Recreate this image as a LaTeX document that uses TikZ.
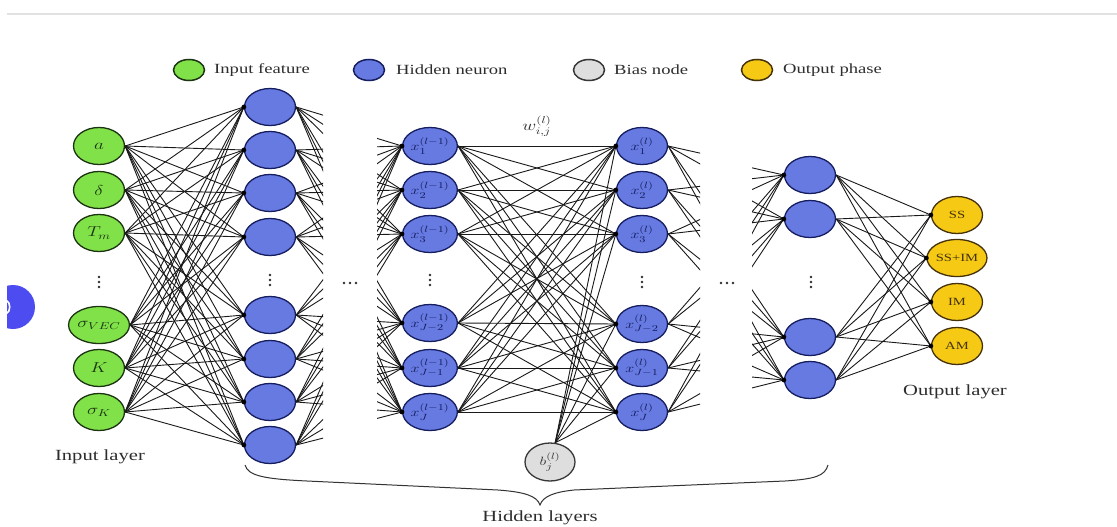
\documentclass[tikz,border=0pt]{standalone}
\usepackage{fontspec}
\usepackage{graphicx}
\setmainfont{Liberation Serif}
\usetikzlibrary{shapes.geometric}
\definecolor{gfill}{RGB}{128,226,72}
\definecolor{gdraw}{RGB}{28,52,18}
\definecolor{bfill}{RGB}{102,122,226}
\definecolor{bdraw}{RGB}{22,30,96}
\definecolor{btext}{RGB}{20,28,90}
\definecolor{kfill}{RGB}{222,222,222}
\definecolor{kdraw}{RGB}{55,55,55}
\definecolor{yfill}{RGB}{246,202,20}
\definecolor{ydraw}{RGB}{70,50,10}
\definecolor{rulegray}{RGB}{226,226,226}
\definecolor{artblue}{RGB}{76,76,240}
\definecolor{txt}{RGB}{45,45,45}
\newcommand{\hs}[1]{\scalebox{1.33}[1]{#1}}
\begin{document}
\begin{tikzpicture}[x=1pt,y=-1pt,
  neuron/.style={ellipse, minimum width=51pt, minimum height=37pt, inner sep=0pt, line width=1.3pt},
  inp/.style={neuron, fill=gfill, draw=gdraw, text=gdraw, font=\fontsize{14}{16}\selectfont},
  hid/.style={neuron, fill=bfill, draw=bdraw, text=btext, font=\fontsize{13}{15}\selectfont},
  bias/.style={neuron, minimum width=50pt, minimum height=38pt, fill=kfill, draw=kdraw, text=kdraw, font=\fontsize{13}{15}\selectfont},
  outn/.style={neuron, fill=yfill, draw=ydraw, text=ydraw, font=\fontsize{11}{13}\selectfont},
  legel/.style={ellipse, minimum width=31pt, minimum height=21pt, inner sep=0pt, line width=1.5pt},
  legtxt/.style={anchor=west, inner sep=0pt, text=txt, font=\fontsize{14}{16}\selectfont},
  lbl/.style={inner sep=0pt, text=txt, font=\fontsize{15.5}{18}\selectfont},
  conn/.style={draw=black!90, line width=0.9pt},
  jdot/.style={fill=black},
  vdot/.style={fill=txt},
]
\useasboundingbox (0,0) rectangle (1117,527);
\fill[white] (0,0) rectangle (1117,527);

% top rule and edge artefact
\draw[rulegray, line width=2pt] (7,14) -- (1117,14);
\begin{scope}
  \clip (7,0) rectangle (60,527);
  \fill[artblue] (13,307) circle (22);
  \draw[white, line width=1.6pt] (6,300) .. controls (11,302) and (11,312) .. (6,314);
\end{scope}

% legend
\node[legel, fill=gfill, draw=gdraw] (lg1) at (189,70) {};
\node[legtxt] (lt1) at (214,70) {\hs{Input feature}};
\node[legel, fill=bfill, draw=bdraw] (lg2) at (369,70) {};
\node[legtxt] (lt2) at (396,70) {\hs{Hidden neuron}};
\node[legel, fill=kfill, draw=kdraw] (lg3) at (589,70) {};
\node[legtxt] (lt3) at (614,70) {\hs{Bias node}};
\node[legel, fill=yfill, draw=ydraw] (lg4) at (757,70) {};
\node[legtxt] (lt4) at (783,70) {\hs{Output phase}};

% input layer
\foreach \n/\y/\lab in {1/146/a, 2/190/\delta, 3/233/T_m, 4/325/\sigma_{VEC}, 5/368/K, 6/412/\sigma_K}
  \node[inp] (i\n) at (99,\y) {\hs{$\lab$}};
% first hidden layer
\foreach \n/\y in {1/107, 2/150, 3/193, 4/237, 5/315, 6/359, 7/402, 8/445}
  \node[hid] (h\n) at (270,\y) {};
% layer l-1
\foreach \n/\y/\s in {1/146/1, 2/190/2, 3/234/3, 4/323/{J-2}, 5/368/{J-1}, 6/412/J}
  \node[hid] (p\n) at (430,\y) {\hs{$x_{\s}^{(l-1)}$}};
% layer l
\foreach \n/\y/\s in {1/146/1, 2/190/2, 3/234/3, 4/324/{J-2}, 5/368/{J-1}, 6/412/J}
  \node[hid] (c\n) at (642,\y) {\hs{$x_{\s}^{(l)}$}};
% bias
\node[bias] (b) at (550,462) {\hs{$b_j^{(l)}$}};
% last hidden layer
\foreach \n/\y in {1/175, 2/219, 3/337, 4/380}
  \node[hid] (z\n) at (810,\y) {};
% output layer
\foreach \n/\y/\lab in {1/215/SS, 2/258/SS+IM, 3/302/IM, 4/346/AM}
  \node[outn] (o\n) at (957,\y) {\hs{\lab}};

% virtual neighbours for the cut-off connections
\foreach \k/\y in {1/146, 2/190, 3/234, 4/323, 5/368, 6/412}
  \coordinate (va\k) at (425,\y);
\foreach \k/\y in {1/107, 2/150, 3/193, 4/237, 5/315, 6/359, 7/402, 8/445}
  \coordinate (vb\k) at (274,\y);
\foreach \k/\y in {1/175, 2/219, 3/337, 4/380}
  \coordinate (vc\k) at (798,\y);
\foreach \k/\y in {1/146, 2/190, 3/234, 4/324, 5/368, 6/412}
  \coordinate (vd\k) at (655,\y);

% connections input -> hidden 1
\foreach \a in {1,...,6}
  \foreach \b in {1,...,8}
    \draw[conn] (i\a.east) -- (h\b.west);
\foreach \b in {1,...,8} \fill[jdot] (h\b.west) circle (2.4);

% stubs out of hidden 1
\begin{scope}
  \clip (290,0) rectangle (323,527);
  \foreach \a in {1,...,8}
    \foreach \k in {1,...,6}
      \draw[conn] (h\a.east) -- (va\k);
\end{scope}
% stubs into layer l-1
\begin{scope}
  \clip (377,0) rectangle (420,527);
  \foreach \a in {1,...,6}
    \foreach \k in {1,...,8}
      \draw[conn] (vb\k) -- (p\a.west);
\end{scope}
\foreach \a in {1,...,6} \fill[jdot] (p\a.west) circle (2.4);

% layer l-1 -> layer l
\foreach \a in {1,...,6}
  \foreach \b in {1,...,6}
    \draw[conn] (p\a.east) -- (c\b.west);
\foreach \b in {1,...,6}
  \draw[conn] (b.75) -- (c\b.west);
\foreach \b in {1,...,6} \fill[jdot] (c\b.west) circle (2.4);

% stubs out of layer l
\begin{scope}
  \clip (660,0) rectangle (700,527);
  \foreach \a in {1,...,6}
    \foreach \k in {1,...,4}
      \draw[conn] (c\a.east) -- (vc\k);
\end{scope}
% stubs into last hidden layer
\begin{scope}
  \clip (752,0) rectangle (800,527);
  \foreach \a in {1,...,4}
    \foreach \k in {1,...,6}
      \draw[conn] (vd\k) -- (z\a.west);
\end{scope}
\foreach \a in {1,...,4} \fill[jdot] (z\a.west) circle (2.4);

% last hidden -> output
\foreach \a in {1,...,4}
  \foreach \b in {1,...,4}
    \draw[conn] (z\a.east) -- (o\b.west);
\foreach \b in {1,...,4} \fill[jdot] (o\b.west) circle (2.4);

% vertical ellipses (drawn as dots)
\foreach \x/\y in {99/282, 270/280, 430/280, 642/282, 811/282}
  \foreach \d in {-5,0,5}
    \fill[vdot] (\x,\y+\d) circle (1.3);
% horizontal ellipses (drawn as dots)
\foreach \x/\y in {350/283, 727/283}
  \foreach \d in {-6,0,6}
    \fill[vdot] (\x+\d,\y) circle (1.3);

% weight label
\node[inner sep=0pt, text=txt, font=\fontsize{14}{16}\selectfont] (w) at (537,126) {\hs{$w_{i,j}^{(l)}$}};

% layer labels
\node[lbl] (inl) at (100,457) {\hs{Input layer}};
\node[lbl] (outl) at (955,392) {\hs{Output layer}};
\draw[black!80, line width=1pt] (245,465) .. controls (248,476) and (265,479) .. (307,481) -- (498,490) .. controls (525,492) and (537,496) .. (540,505) .. controls (543,496) and (555,492) .. (574,490) -- (785,481) .. controls (815,479) and (825,476) .. (828,465);
\node[lbl] (hidl) at (540,518) {\hs{Hidden layers}};
\end{tikzpicture}
\end{document}
